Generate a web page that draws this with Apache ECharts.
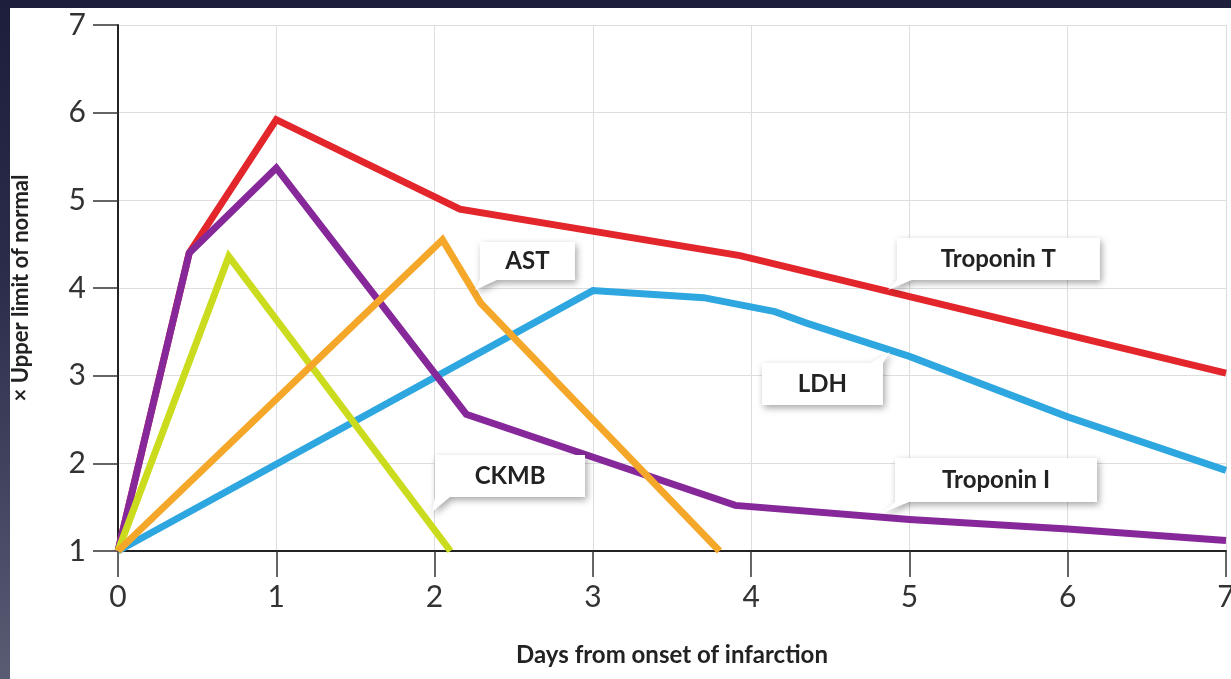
<!DOCTYPE html>
<html>
<head>
<meta charset="utf-8">
<title>Cardiac markers after infarction</title>
<script src="https://cdn.jsdelivr.net/npm/echarts@6.0.0/dist/echarts.min.js"></script>
<style>
  html, body { margin: 0; padding: 0; overflow: hidden; }
  #frame {
    position: absolute; left: 0; top: 0; width: 1231px; height: 679px;
    background: linear-gradient(to bottom, #1c1e3b 0%, #2a2c4a 40%, #5a5c74 100%);
  }
  #paper { position: absolute; left: 10px; top: 8px; right: 0; bottom: 0; background: #fff; }
  #chart { position: absolute; left: 0; top: 0; width: 1231px; height: 679px; }
</style>
</head>
<body>
<div id="frame"><div id="paper"></div></div>
<div id="chart"></div>
<script>
// values: days from onset vs multiples of upper limit of normal
const tropTDays = [0, 0.45, 1, 2.16, 3.93, 7];
const tropTValues = [1, 4.4, 5.92, 4.9, 4.37, 3.03];

const ldhDays = [0, 3, 3.7, 4.15, 4.35, 5, 6, 7];
const ldhValues = [1, 3.97, 3.89, 3.73, 3.6, 3.22, 2.53, 1.92];

const tropIDays = [0, 0.45, 1, 2.2, 3.9, 5, 6, 7];
const tropIValues = [1, 4.4, 5.37, 2.56, 1.52, 1.36, 1.25, 1.12];

const ckmbDays = [0, 0.7, 2.1];
const ckmbValues = [1, 4.36, 1];

const astDays = [0, 2.05, 2.29, 3.8];
const astValues = [1, 4.55, 3.83, 1];

const dayTicks = [0, 1, 2, 3, 4, 5, 6, 7];
const ulnTicks = [1, 2, 3, 4, 5, 6, 7];

// where each callout's pointer touches its curve (days, value)
const calloutNames = ['Troponin T', 'LDH', 'Troponin I', 'CKMB', 'AST'];
const calloutAt = [[4.864, 3.977], [4.877, 3.27], [4.827, 1.433], [1.984, 1.445], [2.255, 3.977]];

const chart = echarts.init(document.getElementById('chart'), null, { renderer: 'canvas' });

const pairs = (xs, ys) => xs.map((x, i) => [x, ys[i]]);

// white box with a little pointer, drawn as a markPoint symbol
const callout = (text, at, box, dir) => {
  const { tx, ty, w, h, r } = box;
  const W = tx + w;
  const H = ty + h;
  let path, offset, pos;
  if (dir === 'downLeft') {
    path = `path://M${tx},0L${W},0L${W},${h}L${tx + r},${h}L0,${H}L${tx},${h}Z`;
    offset = [W / 2, -H / 2];
    pos = [tx + w / 2, h / 2];
  } else {
    path = `path://M0,${ty}L${w - r},${ty}L${W},0L${w},${ty}L${w},${H}L0,${H}Z`;
    offset = [-W / 2, H / 2];
    pos = [w / 2, ty + h / 2];
  }
  return {
    coord: at,
    symbol: path,
    symbolSize: [W, H],
    symbolOffset: offset,
    label: {
      show: true,
      formatter: text,
      position: pos,
      align: 'center',
      verticalAlign: 'middle',
      fontFamily: 'Lato',
      fontSize: 24,
      fontWeight: 'bold',
      color: '#222'
    }
  };
};

const calloutBoxes = [
  { box: { tx: 9, ty: 10, w: 203, h: 42, r: 15 }, dir: 'downLeft' },
  { box: { tx: 7, ty: 11, w: 121, h: 42, r: 13 }, dir: 'upRight' },
  { box: { tx: 13, ty: 11, w: 202, h: 44, r: 14 }, dir: 'downLeft' },
  { box: { tx: 3, ty: 15, w: 150, h: 42, r: 15 }, dir: 'downLeft' },
  { box: { tx: 5, ty: 10, w: 95, h: 38, r: 17 }, dir: 'downLeft' }
];

const lineSeries = (name, xs, ys, color, idx) => ({
  name,
  type: 'line',
  data: pairs(xs, ys),
  symbol: 'none',
  silent: true,
  lineStyle: { color, width: 7, join: 'miter' },
  itemStyle: { color },
  markPoint: {
    silent: true,
    itemStyle: {
      color: '#fff',
      shadowBlur: 7,
      shadowColor: 'rgba(0,0,0,0.35)',
      shadowOffsetX: 2,
      shadowOffsetY: 3
    },
    data: [callout(calloutNames[idx], calloutAt[idx], calloutBoxes[idx].box, calloutBoxes[idx].dir)]
  }
});

const option = {
  animation: false,
  textStyle: { fontFamily: 'Lato' },
  grid: { left: 118, right: 5, top: 25, bottom: 128, outerBoundsMode: 'none' },
  xAxis: {
    type: 'value',
    min: dayTicks[0],
    max: dayTicks[dayTicks.length - 1],
    interval: 1,
    name: 'Days from onset of infarction',
    nameLocation: 'middle',
    nameGap: 92,
    nameTextStyle: { fontSize: 24, fontWeight: 'bold', color: '#222', fontFamily: 'Lato' },
    axisLine: { onZero: false, lineStyle: { color: '#222', width: 2 } },
    axisTick: { length: 26, lineStyle: { color: '#333', width: 1.5 } },
    axisLabel: { fontSize: 30, color: '#333', margin: 31, fontFamily: 'Lato' },
    splitLine: { show: true, lineStyle: { color: '#dedede', width: 1 } }
  },
  yAxis: {
    type: 'value',
    min: ulnTicks[0],
    max: ulnTicks[ulnTicks.length - 1],
    interval: 1,
    name: '× Upper limit of normal',
    nameLocation: 'middle',
    nameGap: 86,
    nameTextStyle: { fontSize: 22, fontWeight: 'bold', color: '#222', fontFamily: 'Lato' },
    axisLine: { show: true, lineStyle: { color: '#222', width: 2 } },
    axisTick: { show: true, length: 25, lineStyle: { color: '#333', width: 1.5 } },
    axisLabel: { fontSize: 30, color: '#333', margin: 32, fontFamily: 'Lato' },
    splitLine: { show: true, lineStyle: { color: '#dedede', width: 1 } }
  },
  series: [
    lineSeries('Troponin T', tropTDays, tropTValues, '#e3262b', 0),
    lineSeries('LDH', ldhDays, ldhValues, '#2ea7e0', 1),
    lineSeries('Troponin I', tropIDays, tropIValues, '#86289a', 2),
    lineSeries('CKMB', ckmbDays, ckmbValues, '#cbdc1e', 3),
    lineSeries('AST', astDays, astValues, '#f5a729', 4)
  ]
};

chart.setOption(option);
window.addEventListener('resize', () => chart.resize());
</script>
</body>
</html>
